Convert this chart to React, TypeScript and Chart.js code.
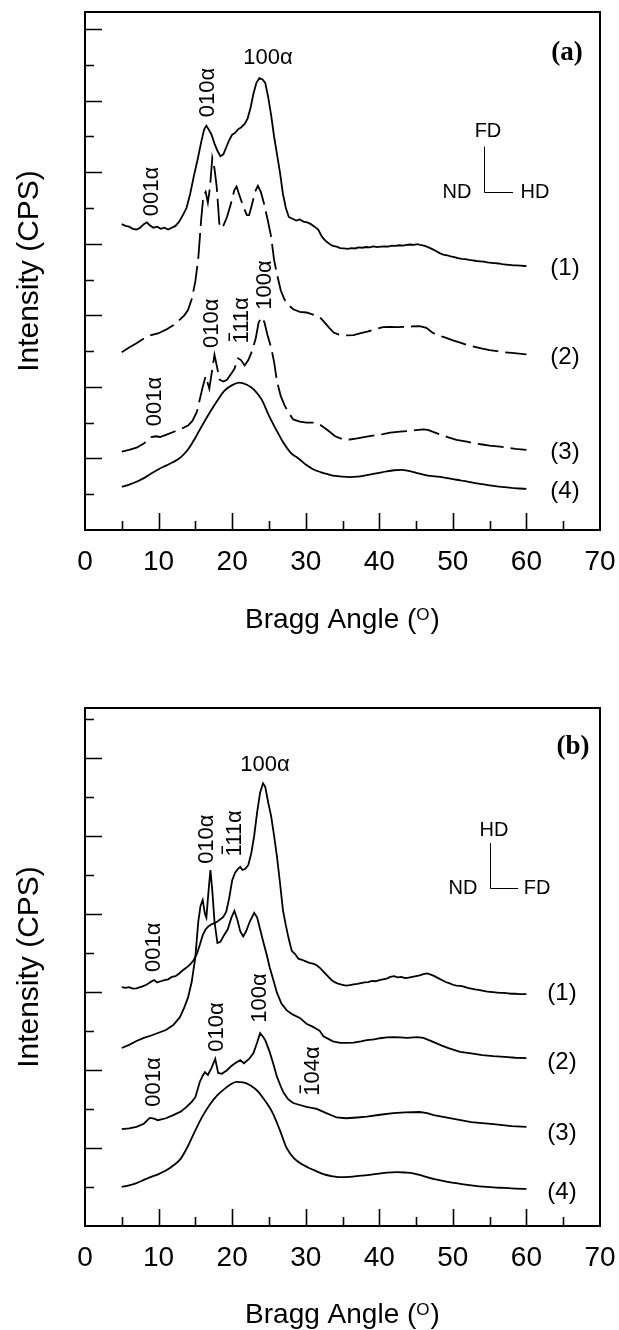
import React, { useEffect, useRef } from 'react';
import { Chart, registerables } from 'chart.js';

Chart.register(...registerables);

const SANS = '"Liberation Sans", Arial, Helvetica, sans-serif';
const SERIF = '"Liberation Serif", "Times New Roman", serif';

// ---- axis ticks ----
const X_TICK_LABELS = [0, 10, 20, 30, 40, 50, 60, 70];
const X_MINOR_TICKS = [5, 10, 15, 20, 25, 30, 35, 40, 45, 50, 55, 60, 65];
const Y_TICKS_A = [1, 2, 3, 4, 5, 6, 7, 8, 9, 10, 11, 12, 13, 14];
const Y_TICKS_B = [1, 2, 3, 4, 5, 6, 7, 8, 9, 10, 11, 12, 13];

// ---- panel (a) series: [Bragg angle, intensity (offset units)] ----
const A1: [number, number][] = [
  [5, 8.55], [5.5, 8.5], [6, 8.48], [6.5, 8.42], [7, 8.4], [7.5, 8.45], [8, 8.55], [8.4, 8.6], [8.8, 8.52], [9.3, 8.45],
  [9.8, 8.48], [10.3, 8.42], [10.8, 8.45], [11.3, 8.4], [11.8, 8.45], [12.3, 8.5], [12.8, 8.62], [13.3, 8.8], [13.8, 9.0],
  [14.3, 9.4], [14.8, 9.9], [15.3, 10.35], [15.8, 10.85], [16.2, 11.2], [16.5, 11.3], [16.8, 11.2], [17.2, 11.05], [17.6, 10.8],
  [18.0, 10.6], [18.4, 10.45], [18.8, 10.5], [19.2, 10.7], [19.6, 10.9], [20.0, 11.05], [20.4, 11.1], [20.8, 11.2], [21.2, 11.25],
  [21.7, 11.35], [22.1, 11.5], [22.5, 11.8], [22.9, 12.2], [23.3, 12.5], [23.7, 12.63], [24.1, 12.6], [24.5, 12.5], [24.9, 12.1],
  [25.3, 11.6], [25.7, 11.0], [26.1, 10.5], [26.5, 10.0], [26.9, 9.4], [27.3, 9.0], [27.7, 8.75], [28.2, 8.7], [28.7, 8.65],
  [29.2, 8.68], [29.7, 8.62], [30.2, 8.6], [30.7, 8.55], [31.2, 8.48], [31.7, 8.4], [32.2, 8.2], [32.7, 8.08], [33.2, 8.0],
  [33.7, 7.94], [34.2, 7.92], [34.7, 7.88], [35.2, 7.87], [35.7, 7.86], [36.2, 7.88], [36.7, 7.87], [37.2, 7.9], [37.7, 7.89],
  [38.2, 7.91], [38.7, 7.9], [39.2, 7.93], [39.7, 7.91], [40.2, 7.92], [40.7, 7.93], [41.2, 7.92], [41.7, 7.95], [42.2, 7.94],
  [42.7, 7.96], [43.2, 7.95], [43.7, 7.97], [44.2, 7.98], [44.7, 7.97], [45.2, 7.99], [45.7, 7.96], [46.2, 7.94], [46.7, 7.9],
  [47.2, 7.85], [47.7, 7.8], [48.2, 7.74], [48.7, 7.7], [49.2, 7.68], [49.7, 7.65], [50.2, 7.63], [50.7, 7.6], [51.2, 7.58],
  [51.7, 7.57], [52.2, 7.55], [52.7, 7.54], [53.2, 7.52], [53.7, 7.51], [54.2, 7.5], [54.7, 7.48], [55.2, 7.47], [55.7, 7.46],
  [56.2, 7.45], [56.7, 7.43], [57.2, 7.42], [57.7, 7.41], [58.2, 7.4], [58.7, 7.4], [59.2, 7.39], [59.7, 7.38], [60, 7.38],
];
const A2: [number, number][] = [
  [5, 4.97], [6, 5.1], [7, 5.22], [8, 5.35], [9, 5.45], [10, 5.5], [11, 5.6], [12, 5.72], [13, 5.9], [13.5, 6.0], [14, 6.15],
  [14.5, 6.45], [15, 6.95], [15.4, 7.6], [15.8, 8.7], [16.1, 9.35], [16.4, 9.45], [16.7, 9.15], [17.0, 9.6], [17.3, 10.4],
  [17.6, 10.1], [17.9, 9.6], [18.3, 8.45], [18.8, 8.5], [19.3, 8.75], [19.8, 9.1], [20.3, 9.5], [20.6, 9.6], [21.0, 9.35],
  [21.5, 9.05], [22.0, 8.8], [22.3, 8.8], [22.7, 9.1], [23.1, 9.45], [23.5, 9.62], [23.9, 9.45], [24.3, 9.15], [24.8, 8.7],
  [25.3, 8.2], [25.7, 7.55], [26.1, 7.15], [26.6, 6.7], [27.1, 6.45], [27.6, 6.3], [28.3, 6.17], [29.2, 6.1], [30.1, 6.08],
  [31.0, 6.02], [31.9, 5.95], [32.5, 5.82], [33.2, 5.65], [33.8, 5.52], [34.5, 5.46], [35.5, 5.44], [36.5, 5.45], [37.5, 5.5],
  [38.5, 5.55], [39.5, 5.62], [40.5, 5.67], [41.5, 5.68], [42.5, 5.67], [43.5, 5.68], [44.5, 5.69], [45.5, 5.7], [46.4, 5.65],
  [47.2, 5.52], [48, 5.44], [49, 5.38], [50, 5.3], [51, 5.24], [52, 5.17], [53, 5.12], [54, 5.07], [55, 5.03], [56, 5.0],
  [57, 4.97], [58, 4.95], [59, 4.93], [60, 4.91],
];
const A3: [number, number][] = [
  [5, 2.19], [6, 2.24], [7, 2.3], [8, 2.42], [9, 2.6], [9.6, 2.62], [10.2, 2.6], [11, 2.66], [12, 2.74], [13, 2.82], [14, 2.92],
  [14.6, 3.05], [15.2, 3.3], [15.6, 3.65], [16.0, 4.0], [16.4, 4.3], [16.9, 3.95], [17.3, 4.5], [17.6, 4.9], [17.9, 4.6],
  [18.3, 4.2], [18.8, 4.15], [19.3, 4.2], [19.8, 4.35], [20.3, 4.5], [20.8, 4.8], [21.2, 4.75], [21.7, 4.6], [22.2, 4.75],
  [22.7, 5.0], [23.2, 5.35], [23.6, 5.8], [24.0, 5.95], [24.4, 5.8], [24.8, 5.45], [25.3, 5.1], [25.7, 4.7], [26.1, 4.15],
  [26.6, 3.75], [27.1, 3.5], [27.6, 3.3], [28.3, 3.09], [29.2, 3.03], [30.1, 3.0], [31, 3.0], [31.9, 2.95], [32.9, 2.8],
  [34, 2.62], [35.1, 2.53], [36, 2.53], [37, 2.56], [38.3, 2.61], [39.5, 2.65], [40.5, 2.68], [41.5, 2.72], [42.8, 2.75],
  [44, 2.77], [45, 2.79], [46, 2.81], [46.6, 2.8], [47.5, 2.73], [48.3, 2.67], [49.5, 2.58], [50.5, 2.52], [51.9, 2.47],
  [53, 2.42], [54, 2.39], [55, 2.36], [56.4, 2.33], [57.5, 2.3], [58.5, 2.27], [60, 2.24],
];
const A4: [number, number][] = [
  [5, 1.21], [6, 1.27], [7, 1.35], [8, 1.45], [9, 1.58], [10, 1.7], [11, 1.8], [12, 1.9], [13, 2.03], [14, 2.25], [15, 2.58],
  [16, 2.95], [17, 3.3], [18, 3.62], [19, 3.9], [20, 4.05], [21, 4.12], [22, 4.06], [22.5, 4.0], [23, 3.92], [24, 3.65],
  [25, 3.2], [26, 2.8], [27, 2.43], [28, 2.15], [29, 2.0], [30, 1.83], [31, 1.7], [32, 1.62], [33, 1.56], [34, 1.51],
  [35, 1.49], [36, 1.48], [37, 1.49], [38, 1.52], [39, 1.56], [40, 1.6], [41, 1.64], [42, 1.67], [43, 1.68], [44, 1.65],
  [45, 1.6], [46, 1.55], [47, 1.51], [48, 1.49], [49, 1.46], [50, 1.42], [51, 1.39], [52, 1.35], [53, 1.31], [54, 1.28],
  [55, 1.25], [56, 1.22], [57, 1.2], [58, 1.18], [59, 1.16], [60, 1.15],
];

// ---- panel (b) series ----
const B1: [number, number][] = [
  [5, 6.12], [5.5, 6.1], [6, 6.12], [6.5, 6.08], [7, 6.09], [7.5, 6.12], [8, 6.15], [8.5, 6.2], [9, 6.26], [9.4, 6.3],
  [9.8, 6.24], [10.3, 6.27], [10.8, 6.3], [11.3, 6.32], [11.8, 6.38], [12.3, 6.4], [12.8, 6.47], [13.3, 6.55], [13.8, 6.62],
  [14.3, 6.7], [14.8, 6.82], [15.2, 6.97], [15.6, 7.2], [16.0, 7.45], [16.4, 7.6], [16.8, 7.68], [17.2, 7.73], [17.6, 7.76],
  [18.0, 7.8], [18.4, 7.86], [18.8, 7.92], [19.2, 8.05], [19.6, 8.4], [20.0, 8.85], [20.4, 9.05], [20.8, 9.15], [21.1, 9.2],
  [21.4, 9.12], [21.8, 9.15], [22.2, 9.25], [22.6, 9.55], [23.0, 10.0], [23.4, 10.6], [23.8, 11.1], [24.2, 11.34], [24.5, 11.25],
  [24.9, 10.85], [25.3, 10.5], [25.7, 10.0], [26.1, 9.45], [26.5, 8.8], [26.9, 8.1], [27.3, 7.7], [27.7, 7.35], [28.1, 7.05],
  [28.5, 6.98], [29.0, 6.85], [29.5, 6.82], [30.0, 6.78], [30.5, 6.74], [31.0, 6.72], [31.5, 6.68], [32.0, 6.6], [32.5, 6.5],
  [33.0, 6.4], [33.5, 6.3], [34.0, 6.24], [34.5, 6.2], [35.0, 6.18], [35.5, 6.16], [36.0, 6.17], [36.5, 6.19], [37.0, 6.2],
  [37.5, 6.22], [38.0, 6.24], [38.5, 6.25], [39.0, 6.28], [39.5, 6.27], [40.0, 6.3], [40.5, 6.32], [41.0, 6.34], [41.5, 6.38],
  [42.0, 6.4], [42.5, 6.37], [43.0, 6.38], [43.5, 6.35], [44.0, 6.36], [44.5, 6.38], [45.0, 6.4], [45.5, 6.42], [46.0, 6.45],
  [46.5, 6.47], [47.0, 6.44], [47.5, 6.4], [48.0, 6.35], [48.5, 6.3], [49.0, 6.25], [49.5, 6.22], [50.0, 6.18], [50.5, 6.16],
  [51.0, 6.15], [51.5, 6.13], [52.0, 6.1], [52.5, 6.08], [53.0, 6.06], [53.5, 6.05], [54.0, 6.03], [54.5, 6.01], [55.0, 6.0],
  [55.5, 5.99], [56.0, 5.98], [56.5, 5.97], [57.0, 5.97], [57.5, 5.96], [58.0, 5.95], [58.5, 5.95], [59.0, 5.94], [59.5, 5.94],
  [60, 5.94],
];
const B2: [number, number][] = [
  [5, 4.56], [6, 4.64], [7, 4.74], [8, 4.82], [9, 4.88], [10, 4.95], [11, 5.02], [12, 5.15], [12.9, 5.35], [13.5, 5.6],
  [14.0, 5.85], [14.5, 6.25], [15.0, 6.89], [15.4, 7.8], [15.7, 8.2], [16.0, 8.35], [16.3, 8.0], [16.5, 7.9], [16.8, 8.6],
  [17.05, 9.12], [17.3, 8.6], [17.6, 7.8], [18.0, 7.25], [18.4, 7.28], [18.9, 7.45], [19.4, 7.6], [19.9, 7.9], [20.3, 8.07],
  [20.7, 7.85], [21.1, 7.55], [21.5, 7.42], [21.9, 7.55], [22.4, 7.8], [23.0, 8.02], [23.4, 7.9], [23.8, 7.6], [24.2, 7.3],
  [24.7, 6.95], [25.1, 6.63], [25.6, 6.3], [26.1, 5.97], [26.7, 5.7], [27.4, 5.53], [28.2, 5.42], [29.2, 5.33], [30.1, 5.18],
  [31.0, 5.1], [31.9, 5.0], [32.4, 4.86], [33.0, 4.8], [33.7, 4.73], [34.7, 4.69], [35.6, 4.69], [36.5, 4.7], [37.5, 4.73],
  [38.3, 4.76], [39.3, 4.78], [40.1, 4.81], [41, 4.83], [41.9, 4.84], [42.8, 4.83], [43.8, 4.82], [45.1, 4.84], [46, 4.82],
  [47.4, 4.71], [48.5, 4.62], [49.5, 4.55], [51, 4.46], [52.5, 4.42], [54, 4.38], [55.5, 4.35], [57, 4.33], [58.5, 4.31],
  [60, 4.3],
];
const B3: [number, number][] = [
  [5, 2.48], [6, 2.5], [7, 2.54], [8, 2.62], [8.8, 2.77], [9.4, 2.75], [9.9, 2.71], [11, 2.76], [12, 2.84], [13, 2.93],
  [13.8, 3.05], [14.5, 3.18], [15, 3.3], [15.6, 3.69], [16.0, 3.85], [16.3, 3.94], [16.7, 3.87], [17.2, 4.05], [17.7, 4.28],
  [18.1, 3.92], [18.6, 3.9], [19.3, 3.99], [19.9, 4.1], [20.4, 4.17], [21.1, 4.25], [21.6, 4.17], [22.3, 4.28], [22.9, 4.43],
  [23.4, 4.7], [23.8, 4.94], [24.2, 4.85], [24.5, 4.76], [25.1, 4.46], [25.6, 4.15], [26.1, 3.82], [26.6, 3.58], [27, 3.41],
  [27.6, 3.25], [28.3, 3.15], [29.2, 3.1], [30.1, 3.05], [31.5, 3.0], [32.8, 2.89], [34.2, 2.78], [35.5, 2.76], [37, 2.78],
  [38.3, 2.8], [40.1, 2.85], [41.9, 2.89], [43.5, 2.91], [45.5, 2.92], [46.5, 2.89], [47.4, 2.84], [48.5, 2.8], [50.5, 2.73],
  [52.5, 2.66], [55.5, 2.61], [58, 2.56], [60, 2.54],
];
const B4: [number, number][] = [
  [5, 1.0], [6, 1.04], [7, 1.1], [8, 1.18], [9, 1.26], [10, 1.33], [11, 1.42], [12, 1.55], [13, 1.72], [14, 2.05], [15, 2.45],
  [16, 2.82], [17, 3.12], [18, 3.35], [19, 3.52], [20, 3.65], [20.6, 3.69], [21.5, 3.68], [22.5, 3.6], [23.5, 3.45],
  [24.5, 3.2], [25.5, 2.9], [26.5, 2.45], [27.4, 2.0], [28.5, 1.72], [29.5, 1.58], [30.3, 1.5], [31.5, 1.4], [32.5, 1.32],
  [33.5, 1.28], [34.5, 1.25], [36, 1.26], [37.5, 1.29], [38.7, 1.31], [40, 1.34], [41, 1.37], [42.4, 1.38], [43.5, 1.37],
  [44.6, 1.35], [46, 1.28], [47.5, 1.2], [49.3, 1.13], [51, 1.08], [52.5, 1.04], [54.6, 1.0], [56.5, 0.98], [58.5, 0.96],
  [60, 0.95],
];

// ---- annotations (data coordinates) ----
type Lbl = { text: string; x: number; y: number; rot?: boolean; bar?: boolean };
const PEAKS_A: Lbl[] = [
  { text: '100α', x: 24.87, y: 13.19 },
  { text: '010α', x: 16.72, y: 12.23, rot: true },
  { text: '001α', x: 9.11, y: 9.46, rot: true },
  { text: '001α', x: 9.51, y: 3.59, rot: true },
  { text: '010α', x: 17.26, y: 5.78, rot: true },
  { text: '111α', x: 21.34, y: 5.86, rot: true, bar: true },
  { text: '100α', x: 24.47, y: 6.85, rot: true },
];
const PEAKS_B: Lbl[] = [
  { text: '100α', x: 24.47, y: 11.81 },
  { text: '010α', x: 16.58, y: 9.91, rot: true },
  { text: '111α', x: 20.39, y: 10.06, rot: true, bar: true },
  { text: '001α', x: 9.38, y: 7.14, rot: true },
  { text: '001α', x: 9.38, y: 3.69, rot: true },
  { text: '010α', x: 17.94, y: 5.1, rot: true },
  { text: '100α', x: 23.79, y: 5.84, rot: true },
  { text: '104α', x: 30.99, y: 3.97, rot: true, bar: true },
];
const CURVE_NAMES = ['(1)', '(2)', '(3)', '(4)'];
const CURVE_NAME_Y_A = [7.3, 4.83, 2.16, 1.07];
const CURVE_NAME_Y_B = [5.97, 4.2, 2.38, 0.85];

type Glyph = { up: string; left: string; right: string; x: number; y: number; top: number; x2: number; upY: number; lx: number; rx: number };
const GLYPH_A: Glyph = { up: 'FD', left: 'ND', right: 'HD', x: 54.23, y: 9.46, top: 10.72, x2: 58.18, upY: 11.14, lx: 50.56, rx: 61.17 };
const GLYPH_B: Glyph = { up: 'HD', left: 'ND', right: 'FD', x: 55.05, y: 8.66, top: 9.81, x2: 58.86, upY: 10.14, lx: 51.38, rx: 61.44 };

type PanelCfg = {
  series: [number, number][][];
  dashed: boolean[];
  smooth: boolean[];
  yMax: number;
  yTicks: number[];
  peaks: Lbl[];
  nameY: number[];
  nameX: number;
  tag: string;
  tagX: number;
  tagY: number;
  glyph: Glyph;
  height: number;
  padTop: number;
  xAxisH: number;
  xTitleY: number;
};

const PANEL_A: PanelCfg = {
  series: [A1, A2, A3, A4],
  dashed: [false, true, true, false],
  smooth: [false, false, false, true],
  yMax: 14.48,
  yTicks: Y_TICKS_A,
  peaks: PEAKS_A,
  nameY: CURVE_NAME_Y_A,
  nameX: 65.24,
  tag: '(a)',
  tagX: 65.52,
  tagY: 13.33,
  glyph: GLYPH_A,
  height: 660,
  padTop: 12,
  xAxisH: 130,
  xTitleY: 618,
};
const PANEL_B: PanelCfg = {
  series: [B1, B2, B3, B4],
  dashed: [false, false, false, false],
  smooth: [false, false, false, true],
  yMax: 13.27,
  yTicks: Y_TICKS_B,
  peaks: PEAKS_B,
  nameY: CURVE_NAME_Y_B,
  nameX: 64.84,
  tag: '(b)',
  tagX: 66.33,
  tagY: 12.27,
  glyph: GLYPH_B,
  height: 670,
  padTop: 48,
  xAxisH: 104,
  xTitleY: 653,
};

function drawLabel(ctx: CanvasRenderingContext2D, l: Lbl, px: number, py: number, size: number) {
  ctx.save();
  ctx.translate(px, py);
  if (l.rot) ctx.rotate(-Math.PI / 2);
  ctx.font = `${size}px ${SANS}`;
  ctx.textAlign = 'center';
  ctx.textBaseline = 'middle';
  ctx.fillStyle = '#000';
  ctx.fillText(l.text, 0, 0);
  if (l.bar) {
    const W = ctx.measureText(l.text).width;
    const w1 = ctx.measureText(l.text[0]).width;
    ctx.strokeStyle = '#000';
    ctx.lineWidth = 1.5;
    ctx.beginPath();
    ctx.moveTo(-W / 2 + w1 * 0.2, -size * 0.58);
    ctx.lineTo(-W / 2 + w1 * 0.85, -size * 0.58);
    ctx.stroke();
  }
  ctx.restore();
}

function makePlugin(cfg: PanelCfg) {
  return {
    id: 'panelDecor',
    afterDraw(chart: any) {
      const ctx: CanvasRenderingContext2D = chart.ctx;
      const { left, right, top, bottom } = chart.chartArea;
      const xs = chart.scales.x;
      const ys = chart.scales.y;
      ctx.save();
      ctx.strokeStyle = '#000';
      ctx.lineWidth = 2;
      ctx.strokeRect(left, top, right - left, bottom - top);
      ctx.lineWidth = 1.6;
      ctx.beginPath();
      for (const v of X_MINOR_TICKS) {
        const px = Math.round(xs.getPixelForValue(v)) + 0.5;
        const len = v % 10 === 0 ? 17 : 9;
        ctx.moveTo(px, bottom);
        ctx.lineTo(px, bottom - len);
      }
      for (const v of cfg.yTicks) {
        const py = Math.round(ys.getPixelForValue(v)) + 0.5;
        const len = v % 2 === 0 ? 17 : 9;
        ctx.moveTo(left, py);
        ctx.lineTo(left + len, py);
      }
      ctx.stroke();

      // peak labels
      for (const l of cfg.peaks) {
        drawLabel(ctx, l, xs.getPixelForValue(l.x), ys.getPixelForValue(l.y), 22);
      }
      // curve names
      ctx.font = `24px ${SANS}`;
      ctx.textAlign = 'center';
      ctx.textBaseline = 'middle';
      ctx.fillStyle = '#000';
      CURVE_NAMES.forEach((n, i) => {
        ctx.fillText(n, xs.getPixelForValue(cfg.nameX), ys.getPixelForValue(cfg.nameY[i]));
      });
      // panel tag
      ctx.font = `bold 27px ${SERIF}`;
      ctx.fillText(cfg.tag, xs.getPixelForValue(cfg.tagX), ys.getPixelForValue(cfg.tagY));
      // direction glyph
      const g = cfg.glyph;
      ctx.lineWidth = 1;
      ctx.beginPath();
      const gx = Math.round(xs.getPixelForValue(g.x)) + 0.5;
      const gy = Math.round(ys.getPixelForValue(g.y)) + 0.5;
      ctx.moveTo(gx, ys.getPixelForValue(g.top));
      ctx.lineTo(gx, gy);
      ctx.lineTo(xs.getPixelForValue(g.x2), gy);
      ctx.stroke();
      ctx.font = `20px ${SANS}`;
      ctx.fillText(g.up, xs.getPixelForValue(g.x) + 4, ys.getPixelForValue(g.upY));
      ctx.fillText(g.left, xs.getPixelForValue(g.lx), gy);
      ctx.fillText(g.right, xs.getPixelForValue(g.rx), gy);

      // x-axis title with superscript O
      const cx = (left + right) / 2;
      const main = `28px ${SANS}`;
      const sup = `17px ${SANS}`;
      const t1 = 'Bragg Angle (';
      const t3 = ')';
      ctx.font = main;
      const w1 = ctx.measureText(t1).width;
      const w3 = ctx.measureText(t3).width;
      ctx.font = sup;
      const w2 = ctx.measureText('O').width + 1;
      const total = w1 + w2 + w3;
      let sx = cx - total / 2;
      const base = cfg.xTitleY + 10;
      ctx.textAlign = 'left';
      ctx.textBaseline = 'alphabetic';
      ctx.font = main;
      ctx.fillText(t1, sx, base);
      sx += w1;
      ctx.font = sup;
      ctx.fillText('O', sx, base - 8);
      sx += w2;
      ctx.font = main;
      ctx.fillText(t3, sx, base);
      ctx.restore();
    },
  };
}

function Panel({ cfg, top }: { cfg: PanelCfg; top: number }) {
  const ref = useRef<HTMLCanvasElement | null>(null);
  useEffect(() => {
    if (!ref.current) return;
    const datasets = cfg.series.map((s, i) => ({
      data: s.map(([x, y]) => ({ x, y })),
      borderColor: '#000',
      borderWidth: 1.8,
      borderDash: cfg.dashed[i] ? [26, 7] : [],
      pointRadius: 0,
      fill: false,
      tension: cfg.smooth[i] ? 0.4 : 0,
      cubicInterpolationMode: cfg.smooth[i] ? ('monotone' as const) : ('default' as const),
    }));
    const chart = new Chart(ref.current, {
      type: 'line',
      data: { datasets },
      options: {
        responsive: false,
        animation: false,
        events: [],
        layout: { padding: { left: 0, right: 19, top: cfg.padTop, bottom: 0 } },
        plugins: { legend: { display: false }, tooltip: { enabled: false }, title: { display: false } },
        scales: {
          x: {
            type: 'linear',
            min: 0,
            max: 70,
            grid: { display: false, drawTicks: false, tickLength: 0 },
            border: { display: false },
            afterBuildTicks: (s: any) => {
              s.ticks = X_TICK_LABELS.map((v) => ({ value: v }));
            },
            afterFit: (s: any) => {
              s.height = cfg.xAxisH;
              s.paddingLeft = 0;
              s.paddingRight = 0;
            },
            ticks: {
              color: '#000',
              font: { size: 28, family: SANS },
              padding: 15,
              maxRotation: 0,
              autoSkip: false,
            },
          },
          y: {
            type: 'linear',
            min: 0,
            max: cfg.yMax,
            grid: { display: false, drawTicks: false, tickLength: 0 },
            border: { display: false },
            ticks: { display: false },
            afterFit: (s: any) => {
              s.width = 85;
              s.paddingTop = 0;
              s.paddingBottom = 0;
            },
            title: {
              display: true,
              text: 'Intensity (CPS)',
              color: '#000',
              font: { size: 30, family: SANS },
              padding: { top: 12, bottom: 0 },
            },
          },
        },
      },
      plugins: [makePlugin(cfg)],
    });
    return () => chart.destroy();
  }, [cfg]);
  return (
    <canvas
      ref={ref}
      width={619}
      height={cfg.height}
      style={{ position: 'absolute', left: 0, top, width: 619, height: cfg.height, display: 'block' }}
    />
  );
}

export default function App() {
  return (
    <div style={{ position: 'absolute', left: 0, top: 0, width: 619, height: 1330, background: '#fff', overflow: 'hidden' }}>
      <Panel cfg={PANEL_A} top={0} />
      <Panel cfg={PANEL_B} top={660} />
    </div>
  );
}
